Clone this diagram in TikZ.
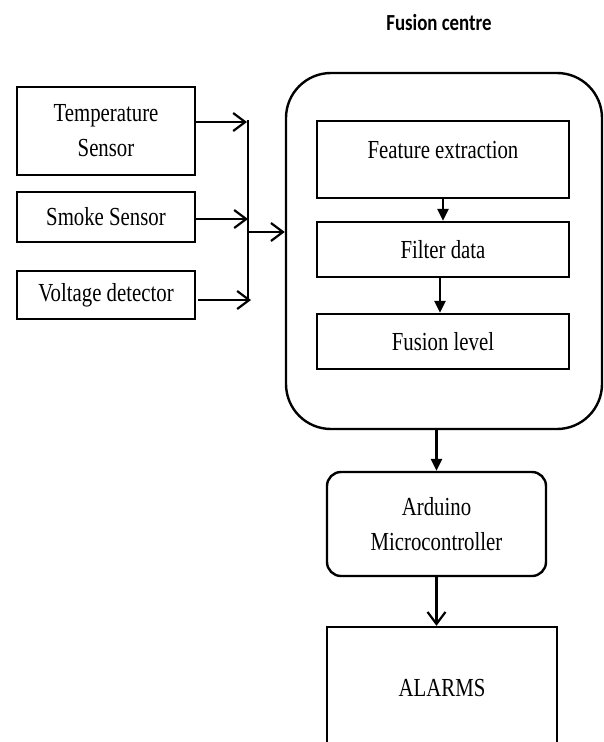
\documentclass[tikz,border=0pt]{standalone}
\usepackage{fontspec}
\setmainfont[FakeStretch=0.8]{Liberation Serif}
\newfontfamily\titlefont[FakeStretch=0.82]{Carlito}
\usetikzlibrary{arrows.meta,positioning}

\begin{document}
\begin{tikzpicture}[x=1pt, y=-1pt,
        wire/.style={black, line width=2.4pt},
        box/.style={draw=black, line width=2.4pt, rectangle, inner sep=0pt, align=center, font=\fontsize{26}{35}\selectfont},
        barb/.style={-{Straight Barb[length=12pt, width=18pt, line width=2.2pt]}},
        tri/.style={-{Triangle[length=12pt, width=11pt]}}]
        \useasboundingbox (0,0) rectangle (604,742);

        \node (title) at (439,23) {\fontsize{23}{28}\selectfont\titlefont\bfseries Fusion centre};

        % sensors
        \node [box, minimum width=178pt, minimum height=88pt] (temp) at (106,131) {Temperature\\Sensor};
        \node [box, minimum width=178pt, minimum height=50pt] (smoke) at (106,217) {Smoke Sensor};
        \node [box, minimum width=178pt, minimum height=48pt] (volt) at (106,295) {Voltage detector};

        % fusion centre
        \node [box, rounded corners=45pt, minimum width=316pt, minimum height=356pt] (fusion) at (444,251) {};
        \node [box, minimum width=252pt, minimum height=77pt, text height=18pt, text depth=20pt] (feat) at (443,159.5) {Feature extraction};
        \node [box, minimum width=252pt, minimum height=55pt] (filt) at (443,249.5) {Filter data};
        \node [box, minimum width=252pt, minimum height=55pt] (level) at (443,341.5) {Fusion level};

        \node [box, rounded corners=14pt, minimum width=219pt, minimum height=104pt] (mcu) at (436.5,524) {Arduino\\Microcontroller};
        \node [box, minimum width=230pt, minimum height=122pt] (alarms) at (442,688) {ALARMS};

        % bus
        \coordinate (bustop) at (248,120);
        \coordinate (busbot) at (248,301);
        \coordinate (tip1) at (247,122);
        \coordinate (tip2) at (248,219);
        \coordinate (tip3) at (251,300);
        \coordinate (busout) at (248,232);
        \draw [wire] (bustop) -- (busbot);
        \draw [wire, barb] ([yshift=9pt]temp.east) -- (tip1);
        \draw [wire, barb] (smoke.east |- tip2) -- (tip2);
        \draw [wire, barb] ([xshift=2pt]volt.east |- tip3) -- (tip3);
        \draw [wire, barb] (busout) -- (busout -| fusion.west);

        \draw [wire, tri] (feat) -- (filt);
        \draw [wire, tri] ([xshift=-3pt]filt.south) -- ([xshift=-3pt]level.north);
        \draw [wire, tri] (fusion.south -| mcu.north) -- (mcu.north);
        \draw [wire, barb] (mcu.south) -- (mcu.south |- alarms.north);
    \end{tikzpicture}
\end{document}
